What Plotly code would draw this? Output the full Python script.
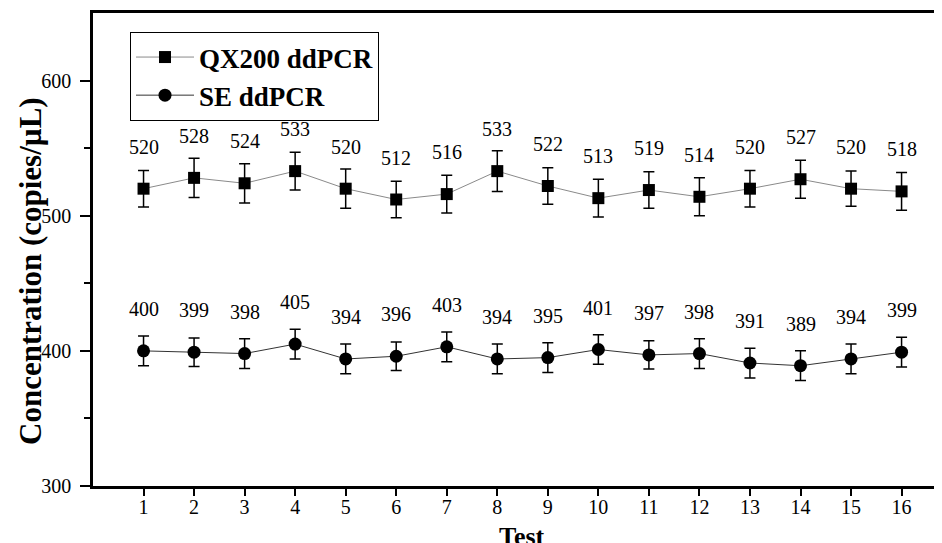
import plotly.graph_objects as go

tests = list(range(1, 17))
qx200 = [520, 528, 524, 533, 520, 512, 516, 533, 522, 513, 519, 514, 520, 527, 520, 518]
qx200_err = [13.5, 14.5, 14.5, 14, 14.5, 13.5, 14, 15, 13.5, 14, 13.5, 14, 13.5, 14, 13, 14]
se = [400, 399, 398, 405, 394, 396, 403, 394, 395, 401, 397, 398, 391, 389, 394, 399]
se_err = [11, 10.5, 11, 11, 11, 10.5, 11, 11, 11, 11, 10.5, 11, 11, 11, 11, 11]

FONT = "Liberation Serif"

# page body has an 8px margin: figure is placed at (8, 8)
W, H = 934, 535
ML, MT, MB = 85, 5, 57
PW, PH = W - ML, H - MT - MB  # plot area 849 x 473

fig = go.Figure()
fig.add_trace(go.Scatter(
    x=tests, y=qx200, mode="lines+markers", name="QX200 ddPCR",
    line=dict(color="#8a8a8a", width=1),
    marker=dict(symbol="square", size=12, color="black"),
    error_y=dict(type="data", array=qx200_err, color="black", thickness=1.5, width=5.5),
))
fig.add_trace(go.Scatter(
    x=tests, y=se, mode="lines+markers", name="SE ddPCR",
    line=dict(color="#333333", width=1),
    marker=dict(symbol="circle", size=13, color="black"),
    error_y=dict(type="data", array=se_err, color="black", thickness=1.5, width=5.5),
))

for xs, ys in ((tests, qx200), (tests, se)):
    for x, y in zip(xs, ys):
        fig.add_annotation(x=x, y=y, text=str(y), showarrow=False, yshift=42,
                           font=dict(family=FONT, size=20, color="black"))

# axis titles (positions in page pixels converted to paper coords)
fig.add_annotation(xref="paper", yref="paper", x=(30 - 93) / PW, y=(486 - 271) / PH,
                   text="Concentration (copies/µL)", textangle=-90, showarrow=False,
                   xanchor="center", yanchor="middle",
                   font=dict(family=FONT, size=31, color="black", weight="bold"))
fig.add_annotation(xref="paper", yref="paper", x=(522 - 93) / PW, y=-(520 - 486) / PH,
                   text="Test", showarrow=False, xanchor="center", yanchor="top",
                   font=dict(family=FONT, size=26, color="black", weight="bold"))

fig.update_layout(
    width=W, height=H,
    margin=dict(l=ML, r=0, t=MT, b=MB, autoexpand=False),
    paper_bgcolor="white", plot_bgcolor="white",
    font=dict(family=FONT, color="black"),
    showlegend=True,
    legend=dict(x=(130 - 93) / PW, y=(486 - 32) / PH, xanchor="left", yanchor="top",
                bordercolor="black", borderwidth=1, bgcolor="white",
                font=dict(family=FONT, size=27, color="black", weight="bold"),
                itemwidth=58, tracegroupgap=0),
)
fig.update_xaxes(
    range=[0, 16.8], tickmode="array", tickvals=tests,
    ticks="outside", ticklen=7, tickwidth=1.5, tickcolor="black",
    showline=True, linecolor="black", linewidth=2.5, mirror=True,
    showgrid=False, zeroline=False, automargin=False, ticklabelstandoff=-6,
    tickfont=dict(family=FONT, size=20, color="black"),
)
fig.update_yaxes(
    range=[300, 650], tickvals=[300, 400, 500, 600],
    ticks="outside", ticklen=10, tickwidth=1.5, tickcolor="black",
    minor=dict(tickvals=[350, 450, 550], ticks="outside", ticklen=6, tickwidth=1.5, tickcolor="black"),
    showline=True, linecolor="black", linewidth=2.5, mirror=False,
    showgrid=False, zeroline=False, automargin=False, ticklabelstandoff=5,
    tickfont=dict(family=FONT, size=20, color="black"),
)

fig.write_html("out.html")
